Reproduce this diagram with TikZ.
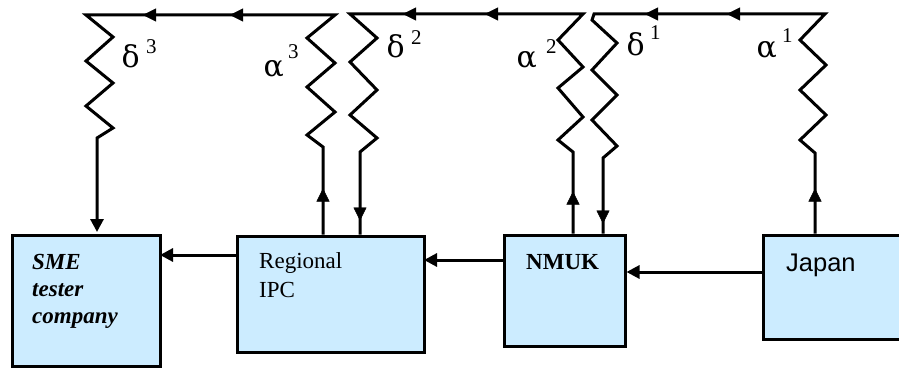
\documentclass[tikz,border=0pt]{standalone}
\usepackage{fontspec}
\setmainfont{Liberation Serif}
\newfontfamily\jpfont{Liberation Sans}
\newfontfamily\grfont{DejaVu Serif}
\usetikzlibrary{arrows.meta,decorations.markings}
\definecolor{boxblue}{RGB}{204,236,255}
\tikzset{
  >={Triangle[length=13pt,width=13pt]},
  conn/.style={line width=3pt, line join=miter, draw=black},
  box/.style={draw=black, line width=3pt, fill=boxblue, inner sep=0pt},
  lab/.style={anchor=base west, inner sep=0pt, font=\fontsize{30}{30}\grfont},
  suplab/.style={anchor=base west, inner sep=0pt, font=\fontsize{21}{21}\selectfont},
  txt/.style={anchor=base west, inner sep=0pt},
  marks/.style={postaction={decorate, decoration={markings, mark=at position #1 with {\arrow{>}}}}},
}
\begin{document}
\begin{tikzpicture}[x=1pt,y=-1pt]
\clip (0,0) rectangle (899,369);
\fill[white] (0,0) rectangle (899,369);
% boxes
\node[box, minimum width=148pt, minimum height=131pt] (sme) at (86,300.5) {};
\node[box, minimum width=187pt, minimum height=116pt] (reg) at (330.5,294) {};
\node[box, minimum width=121pt, minimum height=111pt] (nmuk) at (564.5,290.5) {};
\node[box, minimum width=150pt, minimum height=104pt] (japan) at (838,287) {};
% box texts
\node[txt, font=\fontsize{23}{27}\selectfont\bfseries\itshape] (smet) at (32,269)
  {\begin{tabular}[t]{@{}l@{}}SME\\tester\\company\end{tabular}};
\node[txt, font=\fontsize{23}{29}\selectfont] (regt) at (259,268)
  {\begin{tabular}[t]{@{}l@{}}Regional\\IPC\end{tabular}};
\node[txt, font=\fontsize{23}{27}\selectfont\bfseries] (nmukt) at (526,269) {NMUK};
\node[txt, font=\fontsize{25.5}{30}\jpfont] (japant) at (786,271) {Japan};
% horizontal connectors
\draw[conn,->,shorten >=-1.5pt] (reg.west |- 0,255) -- (sme.east |- 0,255);
\draw[conn,->,shorten >=-1.5pt] (nmuk.west |- 0,260) -- (reg.east |- 0,260);
\draw[conn,->] (japan.west |- 0,272) -- (nmuk.east |- 0,272);
% loop 3: Regional -> SME
\draw[conn,->,shorten >=1.5pt] (reg.north -| 323,0) -- (323,147) -- (307,135) -- (335,112) -- (307,87)
  -- (335,63) -- (307,38) -- (335,15) -- (86,15) -- (113,37) -- (86,61) -- (113,83)
  -- (86,106) -- (113,128) -- (97,138) -- (sme.north -| 97,0);
\path[marks=46pt] (reg.north -| 323,0) -- (323,147);
\path[marks=105pt, marks=192pt] (335,15) -- (86,15);
% loop 2: NMUK -> Regional
\draw[conn] (nmuk.north -| 573,0) -- (573,152) -- (558,140) -- (583,117) -- (558,88)
  -- (583,67) -- (558,40) -- (583,14) -- (350,14) -- (377,38) -- (350,62) -- (377,90)
  -- (350,115) -- (377,138) -- (360,152) -- (reg.north -| 360,0);
\path[marks=42pt] (nmuk.north -| 573,0) -- (573,152);
\path[marks=98pt, marks=180pt] (583,14) -- (350,14);
\path[marks=-14pt] (360,152) -- (reg.north -| 360,0);
% loop 1: Japan -> NMUK
\draw[conn] (japan.north -| 815,0) -- (815,153) -- (800,140) -- (826,115) -- (800,90)
  -- (826,65) -- (800,40) -- (825,14) -- (594,14) -- (592,20) -- (617,43) -- (592,70)
  -- (617,95) -- (592,120) -- (617,146) -- (603,158) -- (nmuk.north -| 603,0);
\path[marks=45pt] (japan.north -| 815,0) -- (815,153);
\path[marks=98pt, marks=180pt] (825,14) -- (594,14);
\path[marks=-10pt] (603,158) -- (nmuk.north -| 603,0);
% labels
\node[lab] (d3) at (121.5,67) {δ};
\node[suplab] (d3s) at (146,53) {3};
\node[lab] (a3) at (263.5,76) {α};
\node[suplab] (a3s) at (288,59) {3};
\node[lab] (d2) at (386.5,57) {δ};
\node[suplab] (d2s) at (411,45) {2};
\node[lab] (a2) at (516.5,67) {α};
\node[suplab] (a2s) at (546,53) {2};
\node[lab] (d1) at (626.5,56) {δ};
\node[suplab] (d1s) at (650,40) {1};
\node[lab] (a1) at (756.5,57) {α};
\node[suplab] (a1s) at (782,43) {1};
\end{tikzpicture}
\end{document}
